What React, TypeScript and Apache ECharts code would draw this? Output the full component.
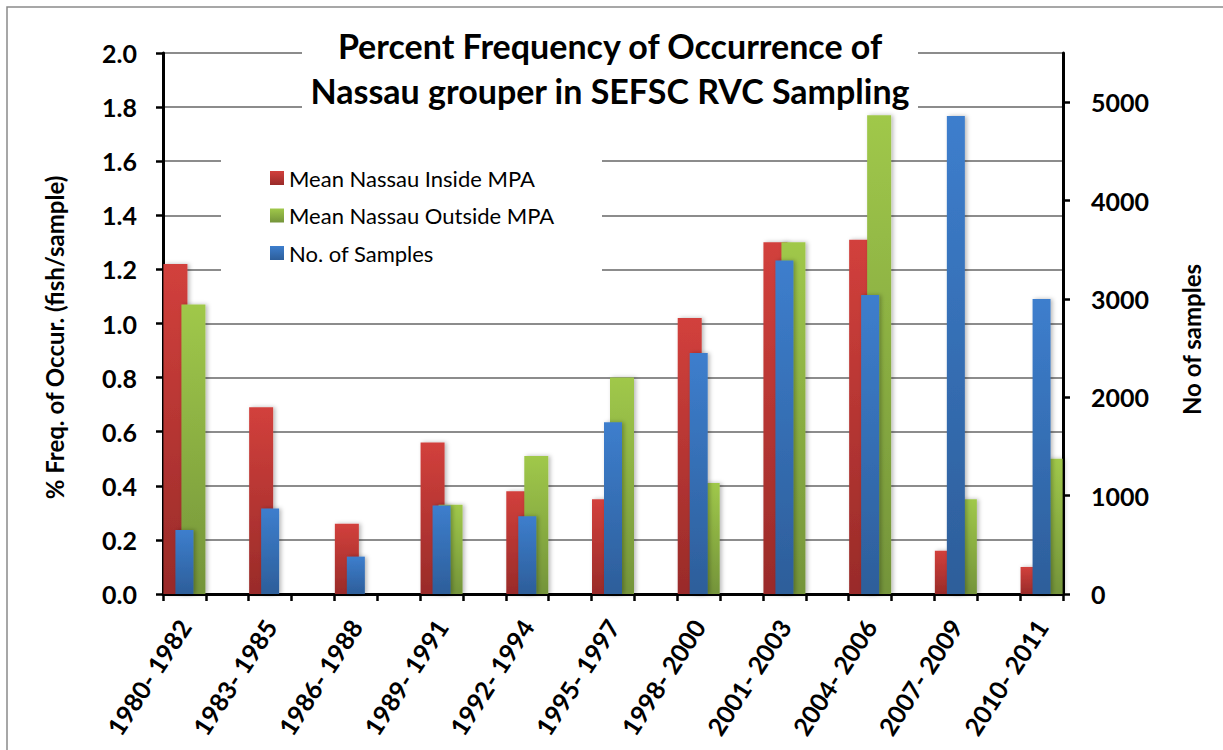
import React, { useEffect, useRef } from "react";
import * as echarts from "echarts";

// ---- data ----
const periods = [
  "1980- 1982",
  "1983- 1985",
  "1986- 1988",
  "1989- 1991",
  "1992- 1994",
  "1995- 1997",
  "1998- 2000",
  "2001- 2003",
  "2004- 2006",
  "2007- 2009",
  "2010- 2011",
];
const insideMPA: (number | null)[] = [1.22, 0.69, 0.26, 0.56, 0.38, 0.35, 1.02, 1.3, 1.31, 0.16, 0.1];
const outsideMPA: (number | null)[] = [1.07, null, null, 0.33, 0.51, 0.8, 0.41, 1.3, 1.77, 0.35, 0.5];
const noSamples: (number | null)[] = [650, 870, 380, 900, 790, 1745, 2450, 3390, 3040, 4860, 3000];

const leftAxis = { min: 0, max: 2, interval: 0.2 };
const rightAxis = { min: 0, max: 5500, interval: 1000 };

const titleLines = ["Percent Frequency of Occurrence of", "Nassau grouper in SEFSC RVC Sampling"];
const seriesNames = ["Mean Nassau Inside MPA", "Mean Nassau Outside MPA", "No. of Samples"];
const leftAxisName = "% Freq. of Occur. (fish/sample)";
const rightAxisName = "No of samples";

const FONT = "Lato";

// every period is followed by an empty category slot (as in the source chart)
const GAP = "__gap";
const categories = periods.flatMap((p, i) => (i < periods.length - 1 ? [p, GAP + i] : [p]));
const spread = (arr: (number | null)[]) =>
  arr.flatMap((v, i) => {
    const val = v === null ? "-" : v;
    return i < arr.length - 1 ? [val, "-"] : [val];
  });

const grad = (top: string, bottom: string) =>
  new echarts.graphic.LinearGradient(0, 0, 0, 1, [
    { offset: 0, color: top },
    { offset: 1, color: bottom },
  ]);

export default function App() {
  const ref = useRef<HTMLDivElement>(null);

  useEffect(() => {
    if (!ref.current) return;
    const chart = echarts.init(ref.current, undefined, { renderer: "svg" });

    const axisLineStyle = { color: "#000", width: 3 };
    const tickStyle = { color: "#000", width: 2.5 };
    const barShadow = {
      shadowColor: "rgba(0,0,0,0.28)",
      shadowBlur: 4,
      shadowOffsetX: 2,
      shadowOffsetY: 0,
    };

    const option: any = {
      animation: false,
      backgroundColor: "#fff",
      textStyle: { fontFamily: FONT },
      grid: { left: 163, right: 160, top: 53, bottom: 156, containLabel: false },
      graphic: [
        {
          type: "rect",
          shape: { x: 7, y: 7, width: 1400, height: 1000 },
          style: { fill: "none", stroke: "#8a8a8a", lineWidth: 1.5 },
          z: 1,
          silent: true,
        },
        {
          type: "rect",
          shape: { x: 302, y: 20, width: 616, height: 91 },
          style: { fill: "#fff" },
          z: 3,
          silent: true,
        },
        {
          type: "rect",
          shape: { x: 221, y: 150, width: 381, height: 125 },
          style: { fill: "#fff" },
          z: 3,
          silent: true,
        },
        {
          type: "text",
          x: 610,
          y: 45,
          z: 5,
          style: {
            text: titleLines[0],
            font: `bold 34px ${FONT}`,
            fill: "#000",
            align: "center",
            verticalAlign: "middle",
          },
        },
        {
          type: "text",
          x: 610,
          y: 90,
          z: 5,
          style: {
            text: titleLines[1],
            font: `bold 34px ${FONT}`,
            fill: "#000",
            align: "center",
            verticalAlign: "middle",
          },
        },
      ],
      legend: {
        show: true,
        orient: "vertical",
        left: 270,
        top: 167,
        padding: 0,
        itemWidth: 14,
        itemHeight: 14,
        itemGap: 15.5,
        icon: "rect",
        z: 6,
        textStyle: { fontFamily: FONT, fontSize: 22, color: "#000", lineHeight: 22 },
        data: seriesNames,
      },
      xAxis: [
        {
          type: "category",
          data: categories,
          boundaryGap: true,
          axisLine: { show: true, lineStyle: axisLineStyle },
          axisTick: { show: true, interval: 0, alignWithLabel: false, length: 7, lineStyle: tickStyle },
          axisLabel: {
            interval: 0,
            rotate: 57,
            margin: 28,
            fontSize: 25,
            fontWeight: "bold",
            fontFamily: FONT,
            color: "#000",
            formatter: (v: string) => (v.startsWith(GAP) ? "" : v),
          },
          splitLine: { show: false },
        },
        {
          type: "category",
          data: categories,
          boundaryGap: true,
          show: false,
        },
      ],
      yAxis: [
        {
          type: "value",
          position: "left",
          min: leftAxis.min,
          max: leftAxis.max,
          interval: leftAxis.interval,
          name: leftAxisName,
          nameLocation: "middle",
          nameRotate: 90,
          nameGap: 97,
          nameTextStyle: {
            fontFamily: FONT,
            fontSize: 24,
            fontWeight: "bold",
            color: "#000",
            padding: [0, 28, 0, 0],
          },
          axisLine: { show: true, lineStyle: axisLineStyle },
          axisTick: { show: true, length: 7, lineStyle: tickStyle },
          axisLabel: {
            margin: 26,
            fontSize: 25,
            fontWeight: "bold",
            fontFamily: FONT,
            color: "#000",
            formatter: (v: number) => v.toFixed(1),
          },
          splitLine: { show: true, lineStyle: { color: "#8c8c8c", width: 2 } },
        },
        {
          type: "value",
          position: "right",
          min: rightAxis.min,
          max: rightAxis.max,
          interval: rightAxis.interval,
          name: rightAxisName,
          nameLocation: "middle",
          nameRotate: 90,
          nameGap: 116,
          nameTextStyle: {
            fontFamily: FONT,
            fontSize: 24,
            fontWeight: "bold",
            color: "#000",
            padding: [0, 32, 0, 0],
          },
          axisLine: { show: true, lineStyle: axisLineStyle },
          axisTick: { show: true, length: 7, lineStyle: tickStyle },
          axisLabel: {
            margin: 28,
            fontSize: 25,
            fontWeight: "bold",
            fontFamily: FONT,
            color: "#000",
            showMaxLabel: false,
            formatter: (v: number) => (v > 5000 ? "" : String(v)),
          },
          splitLine: { show: false },
        },
      ],
      series: [
        {
          name: seriesNames[0],
          type: "bar",
          xAxisIndex: 0,
          yAxisIndex: 0,
          data: spread(insideMPA),
          barWidth: 24,
          barGap: "-25%",
          z: 2,
          itemStyle: { color: grad("#d2403c", "#992b29"), ...barShadow },
        },
        {
          name: seriesNames[1],
          type: "bar",
          xAxisIndex: 0,
          yAxisIndex: 0,
          data: spread(outsideMPA),
          barWidth: 24,
          barGap: "-25%",
          z: 2,
          itemStyle: { color: grad("#a0c84a", "#74943a"), ...barShadow },
        },
        {
          name: seriesNames[2],
          type: "bar",
          xAxisIndex: 1,
          yAxisIndex: 1,
          data: spread(noSamples),
          barWidth: 18,
          z: 2,
          itemStyle: { color: grad("#3d7ecd", "#2d5e9a"), ...barShadow },
        },
      ],
    };

    chart.setOption(option);
    return () => chart.dispose();
  }, []);

  return (
    <div
      ref={ref}
      style={{ position: "absolute", left: 0, top: 0, width: 1223, height: 750 }}
    />
  );
}
